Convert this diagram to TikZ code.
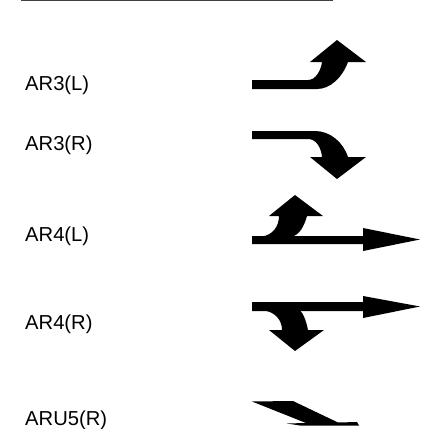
\documentclass[tikz,border=0pt]{standalone}
\usepackage{fontspec}
\setmainfont{Liberation Sans}
\begin{document}
\begin{tikzpicture}[x=1pt,y=-1pt,
  lbl/.style={anchor=base west,inner sep=0pt,font=\fontsize{20.2}{24}\selectfont},
  arr/.style={fill=black,draw=none}]
\useasboundingbox (0,0) rectangle (421,429);
\clip (0,0) rectangle (421,429);
\coordinate (la) at (21,0.6);
\coordinate (lb) at (333,0.6);
\draw[line width=1.2pt,black!75] (la) -- (lb);
% labels
\node[lbl] (t1) at (25,90) {AR3(L)};
\node[lbl] (t2) at (25,150) {AR3(R)};
\node[lbl] (t3) at (25,241) {AR4(L)};
\node[lbl] (t4) at (25,329) {AR4(R)};
\node[lbl] (t5) at (25,425) {ARU5(R)};
% AR3(L)
\fill[arr] (252,80) -- (308,80) .. controls (316,80) and (321,70) .. (322,62)
  -- (310,62) -- (337,40) -- (366,62) -- (348,62)
  .. controls (342,78) and (330,89) .. (317,89) -- (252,89) -- cycle;
% AR3(R)
\fill[arr] (252,131) -- (315,131) .. controls (330,131) and (343,142) .. (348,157)
  -- (366,157) -- (337,179) -- (310,157) -- (322,157)
  .. controls (321,147) and (316,139) .. (308,139) -- (252,139) -- cycle;
% AR4(L)
\fill[arr] (252,236) -- (363,236) -- (363,228) -- (420,239.5) -- (363,251)
  -- (363,244) -- (252,244) -- cycle;
\fill[arr] (262,236.5) .. controls (273,235) and (279,226) .. (279,216)
  -- (269,216) -- (295,195) -- (323,216) -- (307,216)
  .. controls (304,227) and (299,235) .. (292,236.5) -- cycle;
% AR4(R)
\fill[arr] (252,302) -- (363,302) -- (363,296) -- (420,306.5) -- (363,318)
  -- (363,311) -- (252,311) -- cycle;
\fill[arr] (264,310.5) .. controls (275,312) and (282,320) .. (282,330)
  -- (269,330) -- (295,351) -- (324,330) -- (308,330)
  .. controls (306,320) and (303,313) .. (300,310.5) -- cycle;
% ARU5(R)
\fill[arr] (252,401.5) -- (293,401) -- (338,422.5) -- (357,422) -- (359,425.5)
  -- (300,425.5) -- (287,423.5) -- (306,423) -- cycle;
\end{tikzpicture}
\end{document}
